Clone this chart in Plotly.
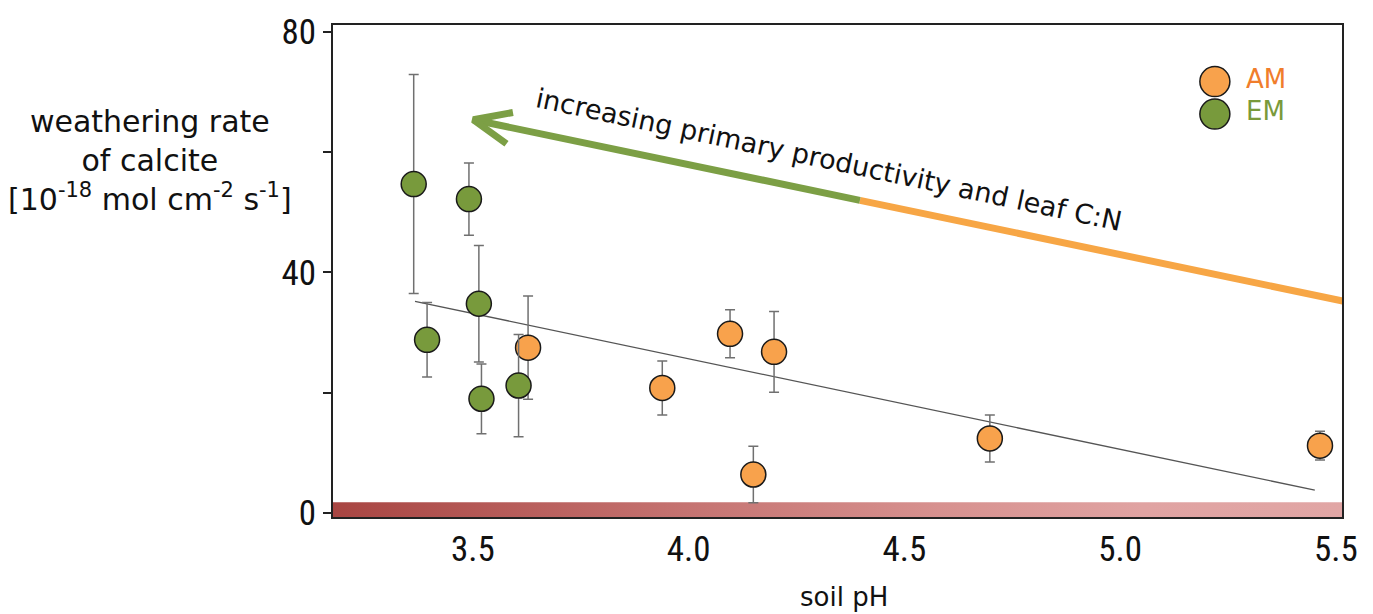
import plotly.graph_objects as go

# soil pH and calcite weathering rate (10^-18 mol cm^-2 s^-1), mean ± error
em_ph = [3.363, 3.491, 3.514, 3.394, 3.520, 3.606]
em_rate = [54.7, 52.2, 34.8, 28.8, 19.0, 21.2]
em_err = [18.2, 6.0, 9.7, 6.2, 5.8, 8.5]

am_ph = [3.628, 3.939, 4.096, 4.198, 4.150, 4.698, 5.463]
am_rate = [27.5, 20.8, 29.8, 26.8, 6.4, 12.4, 11.2]
am_err = [8.6, 4.5, 4.0, 6.7, 4.7, 3.9, 2.4]

# regression line end points
fit_ph = [3.366, 5.451]
fit_rate = [35.2, 3.8]

# productivity arrow (tip, colour change, right end)
arrow_green_ph = [3.501, 4.397]
arrow_green_rate = [65.4, 52.0]
arrow_orange_ph = [4.397, 5.60]
arrow_orange_rate = [52.0, 34.0]
arrow_head_ph = [3.593, 3.501, 3.578]
arrow_head_rate = [66.6, 65.4, 61.4]

# pH gradient band along the x axis
band_ph = [3.17, 5.52, 5.52, 3.17, 3.17]
band_rate = [1.8, 1.8, -0.7, -0.7, 1.8]

x_ticks = [3.5, 4.0, 4.5, 5.0, 5.5]
x_ticklabels = ["3.5", "4.0", "4.5", "5.0", "5.5"]
y_ticks = [0, 40, 80]
y_ticklabels = ["0", "40", "80"]

ORANGE = "#F8A24C"
GREEN = "#789A3C"
ARROW_GREEN = "#7C9F45"
ARROW_ORANGE = "#F7A645"
TEXT_FONT = "'DejaVu Sans', sans-serif"
TICK_FONT = "'Liberation Sans Narrow', 'Roboto Condensed', Roboto, sans-serif"

fig = go.Figure()

fig.add_trace(go.Scatter(
    x=band_ph, y=band_rate, mode="lines", fill="toself",
    line=dict(width=0),
    fillgradient=dict(type="horizontal",
                      colorscale=[[0, "#A84542"], [0.35, "#C57371"],
                                  [0.6, "#D7918F"], [0.8, "#E0A3A2"],
                                  [1, "#E1A6A5"]]),
    hoverinfo="skip", showlegend=False))

fig.add_trace(go.Scatter(
    x=fit_ph, y=fit_rate, mode="lines",
    line=dict(color="#555555", width=1.3),
    hoverinfo="skip", showlegend=False))

fig.add_trace(go.Scatter(
    x=arrow_orange_ph, y=arrow_orange_rate, mode="lines",
    line=dict(color=ARROW_ORANGE, width=7),
    hoverinfo="skip", showlegend=False))
fig.add_trace(go.Scatter(
    x=arrow_green_ph, y=arrow_green_rate, mode="lines",
    line=dict(color=ARROW_GREEN, width=7),
    hoverinfo="skip", showlegend=False))
fig.add_trace(go.Scatter(
    x=arrow_head_ph, y=arrow_head_rate, mode="lines",
    line=dict(color=ARROW_GREEN, width=7),
    hoverinfo="skip", showlegend=False))

err_style = dict(type="data", thickness=1.5, width=5, color="#707070")

fig.add_trace(go.Scatter(
    x=am_ph, y=am_rate, mode="markers", name="AM",
    error_y=dict(array=am_err, **err_style),
    marker=dict(size=25, color=ORANGE, line=dict(color="#1a1a1a", width=1.5)),
    showlegend=False, cliponaxis=False))
fig.add_trace(go.Scatter(
    x=em_ph, y=em_rate, mode="markers", name="EM",
    error_y=dict(array=em_err, **err_style),
    marker=dict(size=25, color=GREEN, line=dict(color="#1a1a1a", width=1.5)),
    showlegend=False, cliponaxis=False))

# legend: circle symbols plus coloured labels
legend_items = [("AM", ORANGE, "#F07D2C", 0.885), ("EM", GREEN, "#7A9A3A", 0.819)]
for label, fill, txt, yp in legend_items:
    fig.add_shape(type="circle", xref="paper", yref="paper",
                  xsizemode="pixel", ysizemode="pixel",
                  xanchor=0.874, yanchor=yp, x0=-15, x1=15, y0=-15, y1=15,
                  fillcolor=fill, line=dict(color="#1a1a1a", width=1.5))
    fig.add_annotation(x=0.903, y=yp + 0.006, xref="paper", yref="paper",
                       text=label, showarrow=False, xanchor="left",
                       yanchor="middle",
                       font=dict(family=TEXT_FONT, size=26, color=txt))

fig.add_annotation(
    x=4.325, y=58.8, text="increasing primary productivity and leaf C:N",
    showarrow=False, textangle=12,
    font=dict(family=TEXT_FONT, size=27, color="#111111"))

fig.add_annotation(
    x=-0.1814, y=0.7243, xref="paper", yref="paper", showarrow=False,
    text="weathering rate<br>of calcite<br>[10<sup>-18</sup> mol cm<sup>-2</sup> s<sup>-1</sup>]",
    align="center", xanchor="center", yanchor="middle",
    font=dict(family=TEXT_FONT, size=30, color="#111111"))

fig.add_annotation(
    x=0.506, y=-0.163, xref="paper", yref="paper", showarrow=False,
    text="soil pH", xanchor="center", yanchor="middle",
    font=dict(family=TEXT_FONT, size=26, color="#111111"))

fig.update_layout(
    width=1373, height=614,
    margin=dict(l=333, r=31, t=20, b=97),
    paper_bgcolor="white", plot_bgcolor="white",
    xaxis=dict(range=[3.176, 5.514], tickvals=x_ticks, ticktext=x_ticklabels,
               showgrid=False, zeroline=False, ticks="",
               showline=True, linecolor="#222222", linewidth=2, mirror=True,
               tickfont=dict(family=TICK_FONT, size=35, color="#111111")),
    yaxis=dict(range=[-0.66, 81.15], tickvals=y_ticks, ticktext=y_ticklabels,
               showgrid=False, zeroline=False, ticks="outside", ticklen=8,
               tickcolor="#222222", tickwidth=1.5,
               minor=dict(dtick=20, ticks="outside", ticklen=8,
                          tickcolor="#222222", tickwidth=1.5),
               showline=True, linecolor="#222222", linewidth=2, mirror=True,
               tickfont=dict(family=TICK_FONT, size=35, color="#111111")),
)

fig.write_html("out.html")
